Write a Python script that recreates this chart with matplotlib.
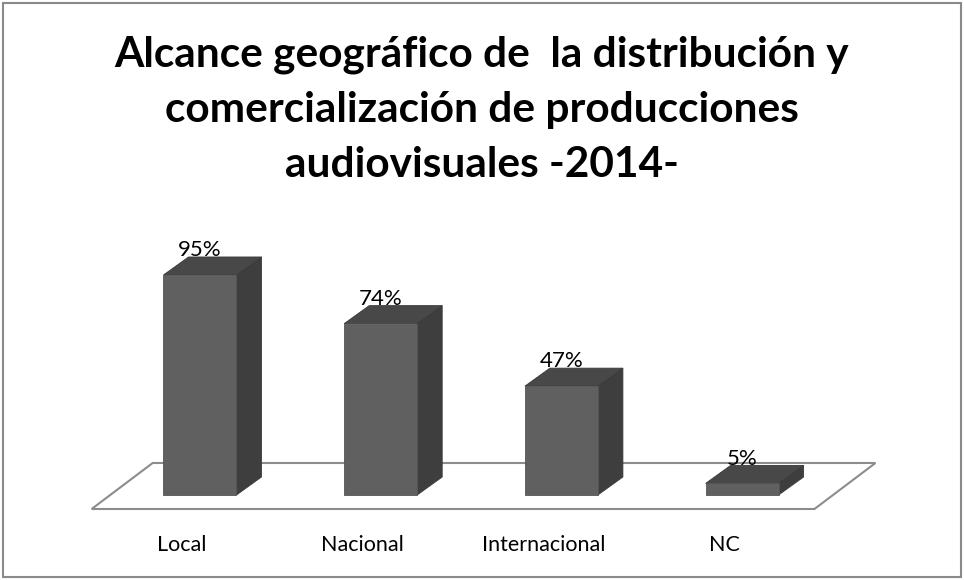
import matplotlib
matplotlib.use("Agg")
import matplotlib.pyplot as plt
from matplotlib.patches import Polygon, Rectangle
import numpy as np

categories = ["Local", "Nacional", "Internacional", "NC"]
values = [95, 74, 47, 5]
labels = ["95%", "74%", "47%", "5%"]
title_lines = ["Alcance geográfico de  la distribución y",
               "comercialización de producciones",
               "audiovisuales -2014-"]

W, H = 964, 580
fig = plt.figure(figsize=(W / 100, H / 100), dpi=100)
fig.patch.set_facecolor("white")

# axes covering the figure; data coords: x = category index, y = percent
px_per_cat = 180.7
px_per_pct = 2.316
x0_px, y0_px = 200.0, 85.0  # pixel (from bottom-left) of category 0 / value 0
ax = fig.add_axes([0, 0, 1, 1])
ax.set_xlim((0 - x0_px) / px_per_cat, (W - x0_px) / px_per_cat)
ax.set_ylim((0 - y0_px) / px_per_pct, (H - y0_px) / px_per_pct)
ax.axis("off")

n = len(categories)
xs = np.arange(n)
bar_w = 73 / px_per_cat
# bar depth offsets
bdx, bdy = 25 / px_per_cat, 18 / px_per_pct
# floor geometry
f_shift = 18 / px_per_cat
f_front_y = -14 / px_per_pct
fdx, fdy = 61 / px_per_cat, 46 / px_per_pct
fl = -0.5 - f_shift
fr = n - 0.5 - f_shift
floor = Polygon([(fl, f_front_y), (fr, f_front_y), (fr + fdx, f_front_y + fdy),
                 (fl + fdx, f_front_y + fdy)], closed=True,
                facecolor="white", edgecolor="#8c8c8c", lw=1.5, zorder=1)
ax.add_patch(floor)

front_c, side_c, top_c = "#606060", "#3e3e3e", "#484848"
for x, v, lab in zip(xs, values, labels):
    l, r = x - bar_w / 2, x + bar_w / 2
    ax.bar(x, v, width=bar_w, bottom=0, color=front_c, edgecolor="#555555",
           lw=0.6, zorder=3)
    side = Polygon([(r, 0), (r + bdx, bdy), (r + bdx, v + bdy), (r, v)],
                   closed=True, facecolor=side_c, edgecolor="#3a3a3a", lw=0.6, zorder=2)
    top = Polygon([(l, v), (r, v), (r + bdx, v + bdy), (l + bdx, v + bdy)],
                  closed=True, facecolor=top_c, edgecolor="#3a3a3a", lw=0.6, zorder=2)
    ax.add_patch(side)
    ax.add_patch(top)
    ax.text(x, v + bdy + 0.3, lab, ha="center", va="baseline", fontsize=16,
            family="Lato", color="black", zorder=5)

for i, c in enumerate(categories):
    xc = i - f_shift
    ax.text(xc, (H - 545 - y0_px) / px_per_pct, c, ha="center", va="center",
            fontsize=15.5, family="Lato", color="black")

for k, line in enumerate(title_lines):
    fig.text(0.5, 1 - (67 + 55 * k) / H, line, ha="center", va="baseline",
             fontsize=30.5, fontweight="bold", family="Lato", color="black")

fig.patches.append(Rectangle((3 / W, 3 / H), (W - 6) / W, (H - 6) / H,
                             transform=fig.transFigure, fill=False,
                             edgecolor="#8a8a8a", lw=1.5))

fig.savefig("out.png", dpi=100, facecolor="white")
